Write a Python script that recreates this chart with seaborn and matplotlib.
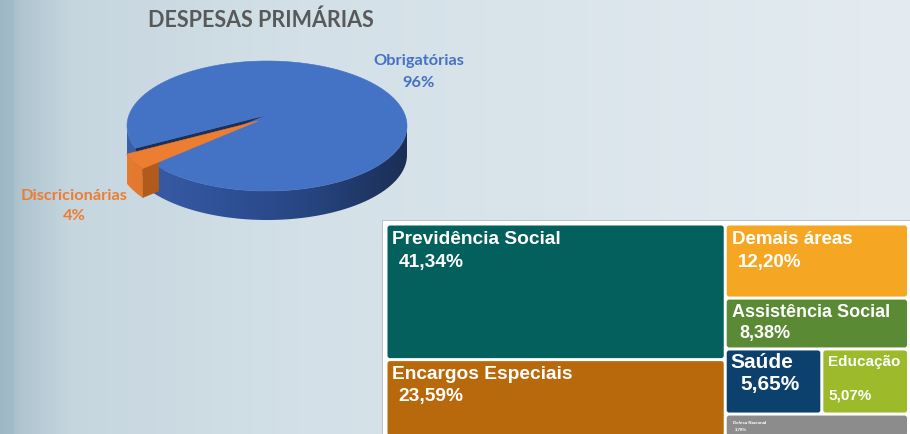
import numpy as np
import matplotlib
matplotlib.use("Agg")
import matplotlib.pyplot as plt
from matplotlib.patches import Polygon, FancyBboxPatch, Rectangle
from matplotlib.colors import to_rgb, LinearSegmentedColormap
import seaborn as sns

# ---- data -------------------------------------------------------------
title = "DESPESAS PRIMÁRIAS"

pie_labels = ["Obrigatórias", "Discricionárias"]
pie_values = [96, 4]
pie_colors = ["#4472c4", "#ed7d31"]

tm_labels = ["Previdência Social", "Encargos Especiais", "Demais áreas",
             "Assistência Social", "Saúde", "Educação", "Defesa Nacional"]
tm_values = [41.34, 23.59, 12.20, 8.38, 5.65, 5.07, 3.78]
tm_colors = ["#03605c", "#b8690c", "#f5a623", "#5a8a33",
             "#0c406d", "#9cba29", "#8c8c8c"]
# nesting of the treemap: columns -> rows -> columns
tm_groups = [[0, 1], [2, 3, [4, 5], 6]]

sns.set_theme(style="white")
plt.rcParams["font.family"] = ["Lato", "DejaVu Sans"]

W, H = 910, 435
fig = plt.figure(figsize=(W / 100, H / 100), dpi=100)
ax = fig.add_axes([0, 0, 1, 1])
ax.set_xlim(0, W)
ax.set_ylim(H, 0)
ax.axis("off")

# ---- backdrop gradient -------------------------------------------------
xs = np.arange(W)
stops_x = [0, 13, 15, 70, 300, 910]
stops_c = [to_rgb(c) for c in ["#9db8c4", "#a2bcc8", "#acc3ce", "#c6d6df",
                               "#d3e0e7", "#e4ecf1"]]
grad = np.stack([np.interp(xs, stops_x, [c[i] for c in stops_c])
                 for i in range(3)], axis=-1)
ax.imshow(np.repeat(grad[None, :, :], 2, axis=0), extent=[0, W, H, 0],
          aspect="auto", zorder=0)

# ---- 3D pie ------------------------------------------------------------
cx, cy, rx, ry, depth = 267, 127, 140, 65, 29
apex_lift = 11          # perspective: the hub sits a little above the ellipse centre
start = 200.0
explode = 10.0


def rim(t, off=(0, 0)):
    r = np.radians(t)
    return cx + off[0] + rx * np.cos(r), cy + off[1] - ry * np.sin(r)


def hub(off=(0, 0)):
    return cx + off[0], cy - apex_lift + off[1]


fracs = np.array(pie_values, float) / sum(pie_values)
spans = []
a = start
for f in fracs[::-1]:
    spans.append((a, a + 360 * f))
    a += 360 * f
spans = spans[::-1]  # order matches pie_labels
(b0, b1), (o0, o1) = spans


def cut_face(t, off, color, z, reach=1.0):
    # radial wall of a slice; `reach` keeps only the outer part of it
    px, py = rim(t, off)
    hx, hy = hub(off)
    ix, iy = px + reach * (hx - px), py + reach * (hy - py)
    poly = [(ix, iy), (px, py), (px, py + depth), (ix, iy + depth)]
    ax.add_patch(Polygon(poly, closed=True, fc=color, ec=color, lw=0.4, zorder=z))


def rim_side(t0, t1, cmap, off, z):
    # visible (front) part of the outer wall, filled with a left-to-right shade
    pieces = []
    for lo, hi in [(180, 360), (540, 720)]:
        s, e = max(t0, lo), min(t1, hi)
        if e > s:
            pieces.append((s, e))
    for s, e in pieces:
        ts = np.linspace(s, e, 120)
        top = [rim(t, off) for t in ts]
        bot = [(x, y + depth) for x, y in top[::-1]]
        poly = Polygon(top + bot, closed=True, fc="none", ec="none", zorder=z)
        ax.add_patch(poly)
        img = ax.imshow(np.linspace(0, 1, 256)[None, :], cmap=cmap,
                        extent=[cx - rx, cx + rx, cy + ry + depth + 5, cy - ry],
                        aspect="auto", zorder=z, interpolation="bilinear")
        img.set_clip_path(poly)


def top_face(t0, t1, color, off, z):
    ts = np.linspace(t0, t1, 240)
    pts = [hub(off)] + [rim(t, off) for t in ts]
    ax.add_patch(Polygon(pts, closed=True, fc=color, ec=color, lw=0.4, zorder=z))


blue_wall = LinearSegmentedColormap.from_list(
    "bw", ["#3a5ea7", "#2f5198", "#26447f", "#1b2e55"])
orange_wall = LinearSegmentedColormap.from_list(
    "ow", ["#e47b2f", "#d56f27", "#c06224", "#a4531c"])

mid = np.radians((o0 + o1) / 2)
off_o = (explode * np.cos(mid), -explode * np.sin(mid) * 1.3)

# blue slice
cut_face(b1 % 360, (0, 0), "#1b2f57", 3)
rim_side(b0, b1, blue_wall, (0, 0), 3)
top_face(b0, b1, pie_colors[0], (0, 0), 4)
# orange slice, pulled out; only the outer end of its cut face shows
cut_face(o1, off_o, "#b05a1b", 4.5, reach=0.14)
rim_side(o0, o1, orange_wall, off_o, 5)
top_face(o0, o1, pie_colors[1], off_o, 6)

ax.text(261, 20, title, ha="center", va="center", fontsize=15.5,
        fontweight="bold", color="#595959", zorder=10)
lab_kw = dict(ha="center", va="center", fontsize=11.8, fontweight="bold", zorder=10)
ax.text(419, 61, pie_labels[0], color=pie_colors[0], **lab_kw)
ax.text(419, 83, f"{pie_values[0]}%", color=pie_colors[0], **lab_kw)
ax.text(74, 196, pie_labels[1], color=pie_colors[1], **lab_kw)
ax.text(74, 216, f"{pie_values[1]}%", color=pie_colors[1], **lab_kw)

# ---- treemap -----------------------------------------------------------
fx0, fy0 = 383, 222
ax.add_patch(Rectangle((fx0 - 1, fy0 - 1), W - fx0 + 2, H - fy0 + 4,
                       fc="#b9c6cd", ec="none", zorder=7))
ax.add_patch(Rectangle((fx0, fy0), W - fx0, H - fy0 + 4,
                       fc="white", ec="none", zorder=7))

tx0, ty0, tx1, ty1 = 386, 225, 908.5, 438


def total(node):
    if isinstance(node, list):
        return sum(total(n) for n in node)
    return tm_values[node]


cells = {}


def layout(node, x, y, w, h, horizontal):
    if not isinstance(node, list):
        cells[node] = (x, y, w, h)
        return
    s = total(node)
    pos = 0.0
    for child in node:
        f = total(child) / s
        if horizontal:
            layout(child, x + pos * w, y, f * w, h, not horizontal)
        else:
            layout(child, x, y + pos * h, w, f * h, not horizontal)
        pos += f


layout(tm_groups, tx0, ty0, tx1 - tx0, ty1 - ty0, True)

gap = 3.0
for i, (x, y, w, h) in cells.items():
    ax.add_patch(FancyBboxPatch((x + gap / 2, y + gap / 2), w - gap, h - gap,
                                boxstyle="round,pad=0,rounding_size=2.5",
                                fc=tm_colors[i], ec="none", zorder=8))

fmt = lambda v: f"{v:.2f}%".replace(".", ",")
# label placement per cell: (name dx, name dy, size, value dx, value dy, size)
lab_style = {
    0: (5, 5, 13.8, 11, 27, 13.8),
    1: (5, 4, 13.8, 11, 26, 13.8),
    2: (5, 5, 13.5, 11, 27, 13.5),
    3: (5, 3, 13.0, 13, 24, 13.0),
    4: (4, 2, 15.0, 14, 24, 15.0),
    5: (5, 4, 11.0, 5, 37, 11.0),
    6: (6, 4, 3.2, 8, 11, 3.2),
}
lab_font = ["Liberation Sans", "DejaVu Sans"]
for i, (x, y, w, h) in cells.items():
    ndx, ndy, ns, vdx, vdy, vs = lab_style[i]
    ax.text(x + gap / 2 + ndx, y + gap / 2 + ndy, tm_labels[i], ha="left",
            va="top", fontsize=ns, fontweight="bold", color="white",
            family=lab_font, zorder=9)
    ax.text(x + gap / 2 + vdx, y + gap / 2 + vdy, fmt(tm_values[i]), ha="left",
            va="top", fontsize=vs, fontweight="bold", color="white",
            family=lab_font, zorder=9)

fig.savefig("out.png", dpi=100)
